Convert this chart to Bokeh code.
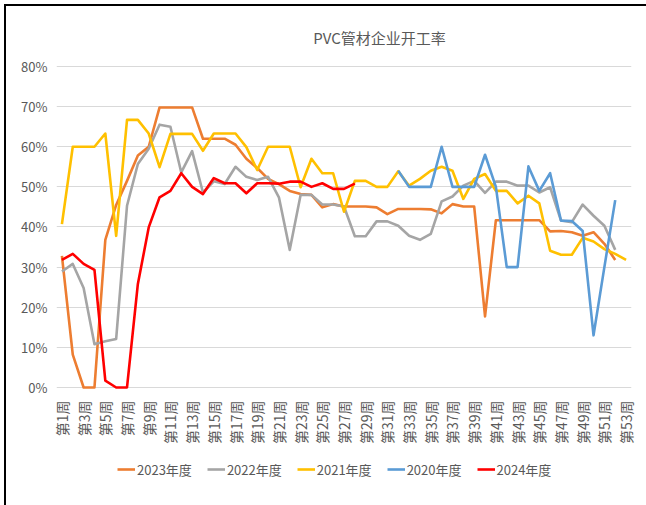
import math
from bokeh.plotting import figure
from bokeh.layouts import column
from bokeh.models import Range1d, FixedTicker, Legend, LegendItem, ColumnDataSource, Label
from bokeh.embed import file_html
from bokeh.resources import INLINE

title_text = "PVC管材企业开工率"
weeks = list(range(1, 54))
week_labels = {w: f"第{w}周" for w in weeks}
tick_weeks = [1, 3, 5, 7, 9, 11, 13, 15, 17, 19, 21, 23, 25, 27, 29, 31, 33, 35, 37, 39,
              41, 43, 45, 47, 49, 51, 53]
y_ticks = [0, 10, 20, 30, 40, 50, 60, 70, 80]

s2023 = [32.8, 8.2, 0, 0, 36.8, 45.5, 51.5, 57.8, 60, 69.8, 69.8, 69.8, 69.8, 62, 62, 62,
         60.5, 57, 54.7, 52, 50.7, 49, 48.2, 48, 44.9, 45.7, 45.1, 45.1, 45.1, 44.9, 43.2,
         44.5, 44.5, 44.5, 44.4, 43.4, 45.7, 45.1, 45.1, 17.7, 41.7, 41.7, 41.7, 41.7, 41.7,
         38.9, 39, 38.7, 37.8, 38.7, 35.8, 31.8, None]
s2022 = [28.9, 30.8, 24.8, 10.8, 11.5, 12.1, 45.3, 55.7, 59.5, 65.5, 65, 53.6, 58.9, 48.6,
         51.4, 50.7, 55, 52.5, 51.7, 52.5, 47.4, 34.3, 48, 48, 45.6, 45.6, 45.1, 37.7, 37.7,
         41.4, 41.4, 40.3, 37.8, 36.8, 38.3, 46.4, 47.6, 50.3, 51.5, 48.5, 51.3, 51.3, 50.3,
         50.3, 48.6, 49.9, 41.6, 41.2, 45.6, 42.8, 40.3, 34.3, None]
s2021 = [40.7, 60, 60, 60, 63.3, 37.8, 66.7, 66.7, 63.3, 54.9, 63.2, 63.2, 63.2, 59, 63.3,
         63.3, 63.3, 59.9, 54.2, 60, 60, 60, 49.9, 57, 53.4, 53.4, 43.8, 51.5, 51.5, 50, 50,
         53.9, 50.3, 52, 54, 55, 54, 47, 52, 53.2, 49, 49, 45.9, 47.8, 45.9, 34.1, 33.1,
         33.1, 37.3, 36.4, 34.5, 33.3, 31.8]
s2020 = [None] * 31 + [54, 50, 50, 50, 60, 50, 50, 50, 58, 50, 30, 30, 55.1, 49, 53.4, 41.6,
                       41.5, 39, 13, 30, 46.7, None]
s2024 = [31.8, 33.3, 30.8, 29.3, 1.7, 0, 0, 25.8, 39.9, 47.4, 49, 53.4, 50, 48.2, 52.2,
         50.9, 50.9, 48.4, 50.9, 50.9, 50.8, 51.3, 51.3, 50, 50.9, 49.5, 49.5, 50.8] + [None] * 25

series = [("2023年度", s2023, "#ED7D31"),
          ("2022年度", s2022, "#A5A5A5"),
          ("2021年度", s2021, "#FFC000"),
          ("2020年度", s2020, "#5B9BD5"),
          ("2024年度", s2024, "#FF0000")]

FONT = "Liberation Sans Narrow, Noto Sans CJK SC, sans-serif"
TXT = "#595959"
LW = 2.6

# title strip
t = figure(width=640, height=40, output_backend="svg", toolbar_location=None,
           x_range=Range1d(0, 1), y_range=Range1d(0, 1),
           min_border=0, x_axis_type=None, y_axis_type=None)
t.outline_line_color = None
t.grid.visible = False
t.background_fill_color = "white"
t.border_fill_color = "white"
t.add_layout(Label(x=323, y=9, x_units="screen", y_units="screen", text=title_text,
                   text_font=FONT, text_font_size="15px", text_color=TXT,
                   text_align="center", text_baseline="middle"))

p = figure(width=640, height=404, output_backend="svg", toolbar_location=None,
           x_range=Range1d(0.5, 53.5), y_range=Range1d(-1, 80.5),
           min_border_left=50, min_border_right=15, min_border_top=18, min_border_bottom=59)
p.outline_line_color = None
p.background_fill_color = "white"
p.border_fill_color = "white"

for name, vals, color in series:
    ys = [float("nan") if v is None else v for v in vals]
    src = ColumnDataSource(dict(x=weeks, y=ys))
    p.line("x", "y", source=src, line_color=color, line_width=LW, line_join="round")

p.xgrid.visible = False
p.ygrid.ticker = FixedTicker(ticks=y_ticks)
p.ygrid.grid_line_color = "#D9D9D9"
p.ygrid.grid_line_width = 1

xa = p.xaxis[0]
xa.ticker = FixedTicker(ticks=tick_weeks)
xa.major_label_overrides = {w: week_labels[w] for w in tick_weeks}
xa.major_label_orientation = math.pi / 2
xa.axis_line_color = None
xa.major_tick_line_color = None
xa.minor_tick_line_color = None
xa.major_label_text_font = FONT
xa.major_label_text_font_size = "14px"
xa.major_label_text_color = TXT
xa.major_label_standoff = 3

ya = p.yaxis[0]
ya.ticker = FixedTicker(ticks=y_ticks)
ya.major_label_overrides = {v: f"{v}%" for v in y_ticks}
ya.axis_line_color = None
ya.major_tick_line_color = None
ya.minor_tick_line_color = None
ya.major_label_text_font = FONT
ya.major_label_text_font_size = "13px"
ya.major_label_text_color = TXT
ya.major_label_standoff = 3

# legend strip below the chart
q = figure(width=640, height=55, output_backend="svg", toolbar_location=None,
           x_range=Range1d(0, 1), y_range=Range1d(0, 1),
           min_border=0, x_axis_type=None, y_axis_type=None)
q.outline_line_color = None
q.grid.visible = False
q.background_fill_color = "white"
q.border_fill_color = "white"
items = []
for name, vals, color in series:
    r = q.line(x=[-5, -4], y=[-5, -5], line_color=color, line_width=LW)
    items.append(LegendItem(label=name, renderers=[r]))
legend = Legend(items=items, orientation="horizontal", location=(61, 26))
legend.label_text_font = FONT
legend.label_text_font_size = "13px"
legend.label_text_color = TXT
legend.border_line_color = None
legend.background_fill_alpha = 0
legend.glyph_width = 18
legend.label_standoff = 2
legend.spacing = 15
legend.margin = 0
legend.padding = 6
q.add_layout(legend, "center")

layout = column(t, p, q, spacing=0,
                styles={"border-left": "2px solid black", "border-top": "2px solid black",
                        "margin-left": "4px", "margin-top": "4px"})

open("out.html", "w").write(file_html(layout, INLINE))
